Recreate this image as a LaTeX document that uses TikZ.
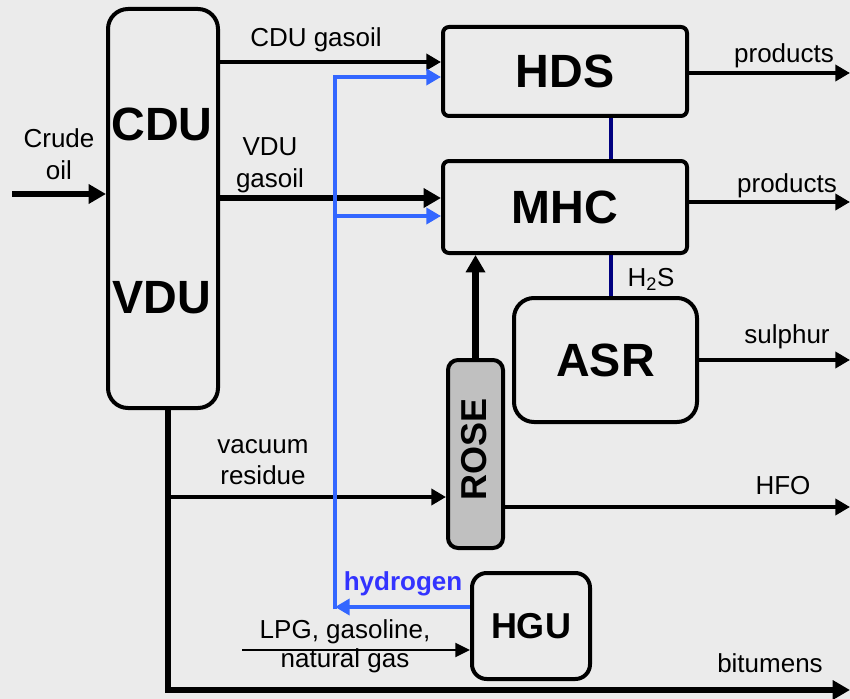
\documentclass[tikz,border=0pt]{standalone}
\usepackage{fontspec}
\setmainfont{Liberation Sans}
\usepackage{xcolor}
\usetikzlibrary{arrows.meta}
\definecolor{bggray}{RGB}{235,235,235}
\definecolor{hydroblue}{RGB}{51,102,255}
\definecolor{hydrotext}{RGB}{51,51,255}
\definecolor{linknavy}{RGB}{0,0,128}
\definecolor{rosegray}{RGB}{192,192,192}

\begin{document}
\begin{tikzpicture}[x=0.75pt, y=-0.75pt,
  unit/.style={rectangle, draw, line width=3pt, rounded corners=#1, inner sep=0pt,
               font=\fontsize{35}{40}\selectfont\bfseries},
  flow/.style={-{Triangle[length=11pt,width=12pt]}, line width=3.5pt},
  thinflow/.style={-{Triangle[length=11pt,width=10.5pt]}, line width=1.5pt},
  thickflow/.style={-{Triangle[length=13pt,width=14pt]}, line width=5pt},
  hflow/.style={-{Triangle[length=11pt,width=12pt]}, line width=3.5pt, hydroblue},
  link/.style={line width=3.2pt, linknavy},
  lbl/.style={font=\fontsize{19.5}{23}\selectfont, anchor=base, inner sep=0pt},
  biglbl/.style={font=\fontsize{35}{40}\selectfont\bfseries, anchor=base, inner sep=0pt},
]
  \useasboundingbox (0,0) rectangle (850,699);
  \fill[bggray] (0,0) rectangle (850,699);

  % units
  \node[unit=15pt, minimum width=82.5pt, minimum height=299.25pt] (cdu) at (163,208.5) {};
  \node[biglbl] (cdulbl) at (162,140) {CDU};
  \node[biglbl] (vdulbl) at (162,313) {VDU};
  \node[unit=4.5pt, minimum width=183pt, minimum height=66.75pt] (hds) at (565,71.5) {HDS};
  \node[unit=4.5pt, minimum width=183pt, minimum height=69pt] (mhc) at (565,207) {MHC};
  \node[unit=15pt, minimum width=137.25pt, minimum height=93pt] (asr) at (605.5,360) {ASR};
  \node[unit=7.5pt, fill=rosegray, minimum width=41.25pt, minimum height=141pt] (rose) at (475.5,454) {};
  \node[font=\fontsize{27}{30}\selectfont\bfseries, rotate=90, inner sep=0pt] (roselbl) at (474,449) {ROSE};
  \node[unit=11pt, minimum width=88.5pt, minimum height=79.5pt,
        font=\fontsize{27}{30}\selectfont\bfseries] (hgu) at (531,626) {HGU};

  % helper points
  \coordinate (crude) at (12,194);
  \coordinate (cdugo) at (0,62);
  \coordinate (vdugo) at (0,198);
  \coordinate (hcorner) at (335,607);
  \coordinate (htop) at (335,77);
  \coordinate (hmid) at (335,216);
  \coordinate (lx) at (611,0);
  \coordinate (rx) at (168,0);
  \coordinate (vr) at (168,497);
  \coordinate (bit) at (850,690);
  \coordinate (hfo) at (850,507);
  \coordinate (p1) at (850,73);
  \coordinate (p2) at (850,202);
  \coordinate (sul) at (850,360);
  \coordinate (lpg) at (242,650);

  % streams
  \draw[thickflow] (crude) -- (crude -| cdu.west);
  \draw[flow] (cdugo -| cdu.east) -- (cdugo -| hds.west);
  \draw[thickflow] (vdugo -| cdu.east) -- (vdugo -| mhc.west);
  \draw[thickflow] (cdu.south -| rx) |- (bit);
  \draw[flow] (vr) -- (vr -| rose.west);
  \draw[thickflow] (rose.north) -- (rose.north |- mhc.south);
  \draw[flow] (hfo -| rose.east) -- (hfo);
  \draw[flow] (p1 -| hds.east) -- (p1);
  \draw[flow] (p2 -| mhc.east) -- (p2);
  \draw[flow] (sul -| asr.east) -- (sul);
  \draw[thinflow] (lpg) -- (lpg -| hgu.west);
  \draw[link] (hds.south -| lx) -- (mhc.north -| lx);
  \draw[link] (mhc.south -| lx) -- (asr.north -| lx);

  % hydrogen
  \draw[hflow] (hgu.west |- hcorner) -- (hcorner);
  \draw[hflow] ([yshift=-1.75pt]hcorner) -- (htop) -- (htop -| hds.west);
  \draw[hflow] (hmid) -- (hmid -| mhc.west);

  % labels
  \node[lbl] (crude1) at (59,147) {Crude};
  \node[lbl] (crude2) at (59,179) {oil};
  \node[lbl] (cdugolbl) at (316,47) {CDU gasoil};
  \node[lbl] (vdugo1) at (270,155) {VDU};
  \node[lbl] (vdugo2) at (270,187) {gasoil};
  \node[lbl] (vr1) at (263,453) {vacuum};
  \node[lbl] (vr2) at (263,484) {residue};
  \node[lbl] (prod1) at (784,63) {products};
  \node[lbl] (prod2) at (787,192) {products};
  \node[lbl] (h2s) at (651,286) {H\textsubscript{2}S};
  \node[lbl] (sullbl) at (787,343) {sulphur};
  \node[lbl] (hfolbl) at (783,494) {HFO};
  \node[lbl] (bitlbl) at (770,672) {bitumens};
  \node[lbl, font=\fontsize{19.5}{23}\selectfont\bfseries, text=hydrotext] (h2lbl) at (403,590) {hydrogen};
  \node[lbl] (lpg1) at (345,638) {LPG, gasoline,};
  \node[lbl] (lpg2) at (345,667) {natural gas};
\end{tikzpicture}
\end{document}
